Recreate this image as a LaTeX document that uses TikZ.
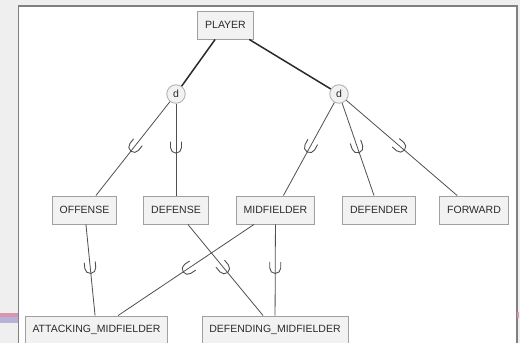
\documentclass[tikz,border=0pt]{standalone}
\usepackage{fontspec}
\setmainfont{Liberation Sans}
\usepackage{tikz}
\usepackage{xcolor}
\usetikzlibrary{decorations.markings}

\definecolor{outergray}{HTML}{EFEFEF}
\definecolor{panelline}{HTML}{808080}
\definecolor{boxfill}{HTML}{F2F2F2}
\definecolor{boxline}{HTML}{A0A0A0}
\definecolor{circline}{HTML}{B4B4B4}
\definecolor{inktext}{HTML}{2A2A2A}
\definecolor{linkline}{HTML}{505050}
\definecolor{stripepink}{HTML}{D896AE}
\definecolor{stripeblue}{HTML}{B6B2D8}

\tikzset{
  entity/.style={draw=boxline, fill=boxfill, line width=0.9pt, minimum height=28pt,
    inner xsep=7.4pt, text=inktext, font=\fontsize{10.5}{12}\selectfont},
  disjoint/.style={circle, draw=circline, fill=boxfill, line width=0.9pt, minimum size=18.5pt,
    inner sep=0pt, text=inktext, font=\fontsize{10.5}{12}\selectfont},
  total/.style={draw=inktext, line width=1.5pt},
  link/.style={draw=linkline, line width=0.8pt},
  subset/.default=0.5,
  subset/.style={postaction={decorate}, decoration={markings,
    mark=at position #1 with {\draw[linkline, line width=0.9pt]
      (-8pt,5.5pt) -- (-2pt,5.5pt) arc (90:-90:5.5pt) -- (-8pt,-5.5pt);}}}
}

\begin{document}
\begin{tikzpicture}[x=1pt,y=-1pt]
\useasboundingbox (0,0) rectangle (520,343);
\clip (0,0) rectangle (520,343);
\fill[outergray] (0,0) rectangle (520,343);
\draw[panelline, fill=white, line width=1.2pt] (18.5,6) rectangle (517,360);
\fill[stripepink] (0,312.7) rectangle (17.5,316.7);
\fill[stripeblue] (0,316.7) rectangle (17.5,323.3);
\fill[stripepink] (517,312) rectangle (518.5,318);

\node[entity] (player) at (225.5,25) {PLAYER};

\node[disjoint] (dl) at (176,94) {d};
\node[disjoint] (dr) at (339,94) {d};

\node[entity] (offense) at (84.5,210) {OFFENSE};
\node[entity] (defense) at (176,210) {DEFENSE};
\node[entity] (midfielder) at (275.5,210) {MIDFIELDER};
\node[entity] (defender) at (379,210) {DEFENDER};
\node[entity] (forward) at (474,210) {FORWARD};

\node[entity] (attmid) at (96.5,330) {ATTACKING\_MIDFIELDER};
\node[entity] (defmid) at (275,330) {DEFENDING\_MIDFIELDER};

% Edges
\draw[total] (player) -- (dl);
\draw[total] (player) -- (dr);

\draw[link, subset] (dl) -- (offense);
\draw[link, subset] (dl) -- (defense);
\draw[link, subset] (dr) -- (midfielder);
\draw[link, subset] (dr) -- (defender);
\draw[link, subset] (dr) -- (forward);

\draw[link, subset] (offense) -- (attmid);
\draw[link, subset] (midfielder) -- (attmid);
\draw[link, subset] (defense) -- (defmid);
\draw[link, subset] (midfielder) -- (defmid);
\end{tikzpicture}
\end{document}
